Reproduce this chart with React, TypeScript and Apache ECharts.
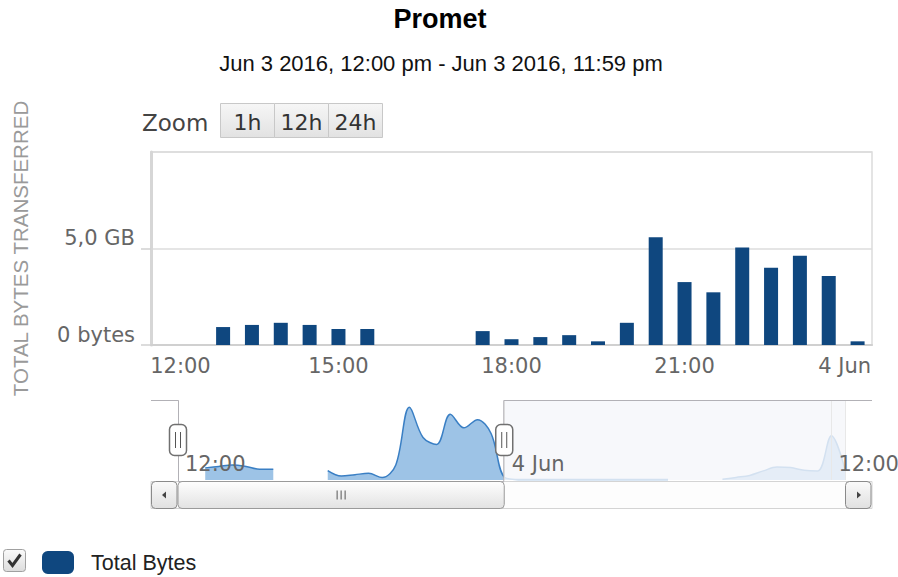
import React, { useEffect, useRef } from 'react';
import * as echarts from 'echarts';

// ---- data ----
const chartTitle = 'Promet';
const chartSubtitle = 'Jun 3 2016, 12:00 pm - Jun 3 2016, 11:59 pm';
const yAxisTitle = 'TOTAL BYTES TRANSFERRED';
const seriesName = 'Total Bytes';

// 30-minute slots, 3 Jun 12:00 .. 4 Jun 00:00
const timeLabels = [
  '12:00', '12:30', '13:00', '13:30', '14:00', '14:30', '15:00', '15:30',
  '16:00', '16:30', '17:00', '17:30', '18:00', '18:30', '19:00', '19:30',
  '20:00', '20:30', '21:00', '21:30', '22:00', '22:30', '23:00', '23:30', '00:00',
];
// GB per slot
const totalBytesGB: (number | null)[] = [
  null, null, 0.93, 1.04, 1.15, 1.04, 0.83, 0.83,
  null, null, null, 0.72, 0.30, 0.41, 0.51, 0.19,
  1.15, 5.58, 3.26, 2.73, 5.05, 4.00, 4.63, 3.57, 0.19,
];
// 4 Jun 00:30 .. 12:30 (navigator only)
const nextDayGB: (number | null)[] = [
  0.04, 0.04, 0.04, 0.04, 0.04, 0.04, 0.04, 0.04, 0.04, 0.04, 0.04, 0.04,
  null, null, null,
  0.05, 0.2, 0.35, 0.7, 1.0, 0.95, 0.75, 0.7, 3.4, 0.8,
];
const mainTickLabels = ['12:00', '15:00', '18:00', '21:00', '4 Jun'];
const navTickLabels = ['12:00', '4 Jun', '12:00'];
const zoomButtons = ['1h', '12h', '24h'];

const firstSlotHour = 12;
const nextDayFirstHour = 24.5;
const slotHours = 0.5;
const navMinHour = 12;
const navMaxHour = 36.5;
const rangeStartHour = 12;
const rangeEndHour = 23 + 59 / 60;

const AXIS_FONT = 'DejaVu Sans';
const ARIAL = 'Liberation Sans';
const LABEL_SIZE = 21;

const grad = (a: string, b: string) =>
  new echarts.graphic.LinearGradient(0, 0, 0, 1, [
    { offset: 0, color: a },
    { offset: 1, color: b },
  ]);

export default function App() {
  const ref = useRef<HTMLDivElement>(null);

  useEffect(() => {
    const chart = echarts.init(ref.current!, null, { renderer: 'svg' });

    const navData = [
      ...totalBytesGB.map((v, i) => [firstSlotHour + i * slotHours, v == null ? '-' : v]),
      ...nextDayGB.map((v, i) => [nextDayFirstHour + i * slotHours, v == null ? '-' : v]),
    ];
    const allVals = [...totalBytesGB, ...nextDayGB].filter((v) => v != null) as number[];
    const navYMax = Math.max(...allVals) * 1.1;

    const staticGraphics: any[] = [
      {
        type: 'text', z: 20,
        style: { text: chartTitle, x: 440, y: 19, fontFamily: ARIAL, fontWeight: 'bold', fontSize: 27, fill: '#000', align: 'center', verticalAlign: 'middle' },
      },
      {
        type: 'text', z: 20,
        style: { text: chartSubtitle, x: 441, y: 63, fontFamily: ARIAL, fontSize: 22, fill: '#111', align: 'center', verticalAlign: 'middle' },
      },
      {
        type: 'text', z: 20,
        style: { text: 'Zoom', x: 142, y: 123, fontFamily: AXIS_FONT, fontSize: 23, fill: '#444', align: 'left', verticalAlign: 'middle' },
      },
      ...zoomButtons.flatMap((b, i) => [
        {
          type: 'rect', z: 20,
          shape: { x: 220.5 + i * 54, y: 103.5, width: 54, height: 34 },
          style: { fill: grad('#f6f6f6', '#e2e2e2'), stroke: '#c8c8c8', lineWidth: 1 },
        },
        {
          type: 'text', z: 21,
          style: { text: b, x: 247.5 + i * 54, y: 122, fontFamily: AXIS_FONT, fontSize: 22, fill: '#333', align: 'center', verticalAlign: 'middle' },
        },
      ]),
      // legend checkbox
      {
        type: 'rect', z: 20,
        shape: { x: 3.5, y: 549.5, width: 22, height: 22, r: 3 },
        style: { fill: grad('#fbfbfb', '#dcdcdc'), stroke: '#a0a0a0', lineWidth: 1 },
      },
      {
        type: 'polyline', z: 21,
        shape: { points: [[8.5, 560.5], [12.5, 565.5], [20.5, 554.5]] },
        style: { stroke: '#333', lineWidth: 3, fill: 'none' },
      },
    ];

    const option: any = {
      animation: false,
      backgroundColor: '#fff',
      grid: [
        { left: 151, top: 152, width: 721, height: 193, show: true, borderColor: '#dcdcdc', borderWidth: 1.5, backgroundColor: 'transparent', containLabel: false, outerBoundsMode: 'none' },
        { left: 178, top: 400, width: 667, height: 80, containLabel: false, outerBoundsMode: 'none' },
      ],
      legend: {
        data: [seriesName], left: 42, top: 551, padding: 0, icon: 'roundRect',
        itemWidth: 32, itemHeight: 23, selectedMode: false,
        textStyle: { fontFamily: ARIAL, fontSize: 21.5, color: '#222', padding: [0, 0, 0, 12] },
      },
      xAxis: [
        {
          type: 'category', gridIndex: 0, data: timeLabels, boundaryGap: true,
          axisLine: { show: true, lineStyle: { color: '#d0d0d0', width: 2 } },
          axisTick: { show: false },
          splitLine: { show: false },
          axisLabel: {
            interval: 5, margin: 10, color: '#666', fontFamily: AXIS_FONT, fontSize: LABEL_SIZE,
            formatter: (_v: string, i: number) => {
              const t = mainTickLabels[Math.round(i / 6)];
              if (i === 0) return '{first|' + t + '}';
              if (i === timeLabels.length - 1) return '{last|' + t + '}';
              return t;
            },
            rich: {
              first: { padding: [0, 0, 0, 30], color: '#666', fontFamily: AXIS_FONT, fontSize: LABEL_SIZE },
              last: { padding: [0, 26, 0, 0], color: '#666', fontFamily: AXIS_FONT, fontSize: LABEL_SIZE },
            },
          },
        },
        {
          type: 'value', gridIndex: 1, min: navMinHour, max: navMaxHour, interval: 12, z: 10,
          axisLine: { show: false }, axisTick: { show: false },
          splitLine: { show: true, lineStyle: { color: '#e8e8e8', width: 1 } },
          axisLabel: {
            inside: true, align: 'left', margin: 6, color: '#666', fontFamily: AXIS_FONT, fontSize: LABEL_SIZE,
            padding: [0, 0, 0, 7], showMaxLabel: false,
            formatter: (v: number) => navTickLabels[Math.round((v - navMinHour) / 12)] ?? '',
          },
        },
      ],
      yAxis: [
        {
          type: 'value', gridIndex: 0, min: 0, max: 10, interval: 5,
          axisLine: { show: true, lineStyle: { color: '#d6d6d6', width: 3 } },
          axisTick: { show: true, length: 10, lineStyle: { color: '#d0d0d0', width: 1.5 } },
          splitLine: { show: true, lineStyle: { color: '#dcdcdc', width: 1.5 } },
          axisLabel: {
            showMaxLabel: false, margin: 16, verticalAlign: 'bottom', color: '#666', fontFamily: AXIS_FONT, fontSize: LABEL_SIZE,
            formatter: (v: number) => (v === 0 ? '0 bytes' : v.toFixed(1).replace('.', ',') + ' GB'),
          },
          name: yAxisTitle, nameLocation: 'middle', nameRotate: 90, nameGap: 114,
          nameTextStyle: { fontFamily: ARIAL, fontSize: 20.5, color: '#9a9a9a', padding: [0, 0, 6, 0] },
        },
        { type: 'value', gridIndex: 1, min: 0, max: navYMax, show: false },
      ],
      series: [
        {
          type: 'bar', name: seriesName, xAxisIndex: 0, yAxisIndex: 0, data: totalBytesGB,
          barWidth: 14, itemStyle: { color: '#0f477f' },
        },
        {
          type: 'line', name: 'Navigator', xAxisIndex: 1, yAxisIndex: 1, data: navData,
          smooth: 0.35, showSymbol: false, connectNulls: false,
          lineStyle: { color: '#3a7fc4', width: 1.5 },
          areaStyle: { color: '#9dc3e6', opacity: 1 },
        },
      ],
      graphic: staticGraphics,
    };

    chart.setOption(option);

    // navigator overlays derived from the navigator axis
    const px = (h: number) => chart.convertToPixel({ xAxisIndex: 1 }, h) as number;
    const navL = px(navMinHour);
    const navR = px(navMaxHour);
    const s = px(rangeStartHour);
    const e = px(rangeEndHour);
    const top = 400.5;
    const bot = 480;
    const sbTop = 481.5;
    const sbH = 27;
    const btnW = navL - 151;
    const outerL = navL - btnW;
    const outerR = navR + btnW;

    const handle = (x: number) => [
      {
        type: 'rect', z: 30,
        shape: { x: x - 8.5, y: 424.5, width: 17, height: 31, r: 5 },
        style: { fill: '#fff', stroke: '#707070', lineWidth: 1.5 },
      },
      { type: 'line', z: 31, shape: { x1: x - 2.5, y1: 432, x2: x - 2.5, y2: 448 }, style: { stroke: '#555', lineWidth: 1 } },
      { type: 'line', z: 31, shape: { x1: x + 2.5, y1: 432, x2: x + 2.5, y2: 448 }, style: { stroke: '#555', lineWidth: 1 } },
    ];
    const midX = (s + e) / 2;

    const navGraphics: any[] = [
      ...staticGraphics,
      // masks
      {
        type: 'rect', z: 5,
        shape: { x: e, y: 400, width: navR - e, height: bot - 400 },
        style: { fill: 'rgba(245,247,250,0.82)' },
      },
      ...(s - navL > 0.5
        ? [{ type: 'rect', z: 5, shape: { x: navL, y: 400, width: s - navL, height: bot - 400 }, style: { fill: 'rgba(245,247,250,0.82)' } }]
        : []),
      // scrollbar track
      {
        type: 'rect', z: 25,
        shape: { x: outerL, y: sbTop, width: outerR - outerL, height: sbH },
        style: { fill: '#fdfdfd', stroke: '#d4d4d4', lineWidth: 1 },
      },
      // outline
      {
        type: 'polyline', z: 26,
        shape: { points: [[outerL, top], [s + 0.5, top], [s + 0.5, sbTop], [e - 0.5, sbTop], [e - 0.5, top], [outerR, top]] },
        style: { stroke: '#b2b1b6', lineWidth: 1, fill: 'none' },
      },
      // buttons
      {
        type: 'rect', z: 27,
        shape: { x: outerL + 0.5, y: sbTop, width: btnW - 1.5, height: sbH, r: 4 },
        style: { fill: grad('#fafafa', '#e0e0e0'), stroke: '#8a8a8a', lineWidth: 1 },
      },
      {
        type: 'polygon', z: 28,
        shape: { points: [[outerL + 11, sbTop + 13.5], [outerL + 15, sbTop + 10], [outerL + 15, sbTop + 17]] },
        style: { fill: '#444' },
      },
      {
        type: 'rect', z: 27,
        shape: { x: navR + 0.5, y: sbTop, width: btnW - 1.5, height: sbH, r: 4 },
        style: { fill: grad('#fafafa', '#e0e0e0'), stroke: '#8a8a8a', lineWidth: 1 },
      },
      {
        type: 'polygon', z: 28,
        shape: { points: [[navR + 16, sbTop + 13.5], [navR + 12, sbTop + 10], [navR + 12, sbTop + 17]] },
        style: { fill: '#444' },
      },
      // thumb
      {
        type: 'rect', z: 27,
        shape: { x: s, y: sbTop, width: e - s, height: sbH, r: 4 },
        style: { fill: grad('#fefefe', '#e2e2e2'), stroke: '#9a9a9a', lineWidth: 1 },
      },
      ...[-4, 0, 4].map((d) => ({
        type: 'line', z: 28,
        shape: { x1: midX + d, y1: sbTop + 9, x2: midX + d, y2: sbTop + 18 },
        style: { stroke: '#555', lineWidth: 1 },
      })),
      ...handle(s),
      ...handle(e),
    ];

    chart.setOption({ graphic: navGraphics }, { replaceMerge: ['graphic'] });

    return () => chart.dispose();
  }, []);

  return <div ref={ref} style={{ position: 'fixed', left: 0, top: 0, width: 898, height: 577 }} />;
}
